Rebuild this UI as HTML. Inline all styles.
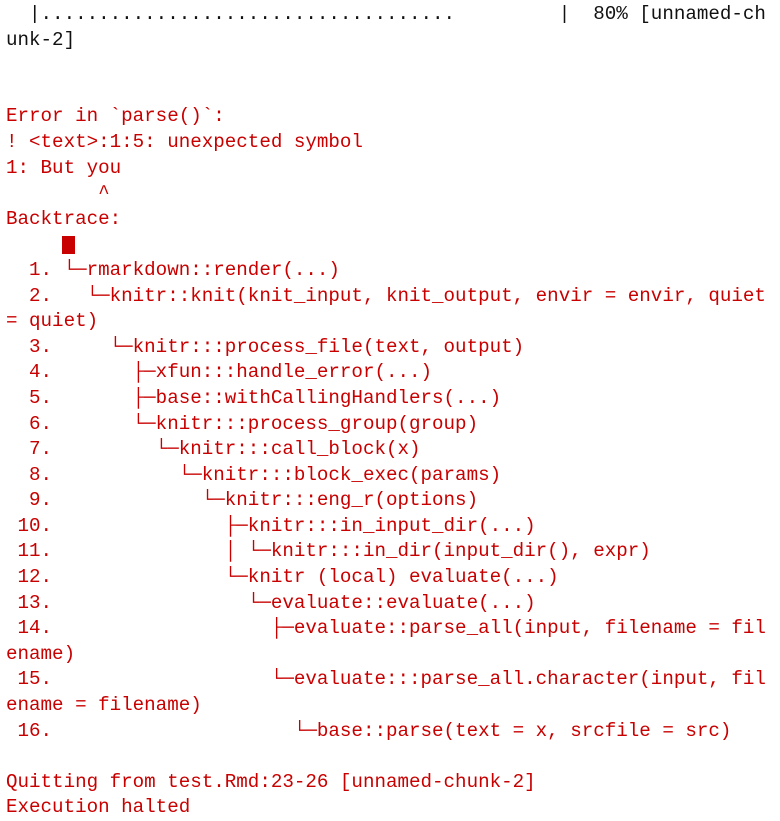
<!DOCTYPE html>
<html><head><meta charset="utf-8"><style>
html,body{margin:0;padding:0;background:#fff;width:780px;height:821px;overflow:hidden}
pre{margin:0;padding:2px 0 0 6px;font-family:"Liberation Mono","DejaVu Sans Mono",monospace;font-size:19.2px;line-height:25.6px;color:#c80000;white-space:pre}
.k{color:#111}
.cur{position:absolute;left:62px;top:236px;width:13px;height:18px;background:#c80000}
</style></head><body>
<pre><span class="k">  |....................................         |  80% [unnamed-ch
unk-2]</span>


Error in `parse()`:
! &lt;text&gt;:1:5: unexpected symbol
1: But you
        ^
Backtrace:

  1. └─rmarkdown::render(...)
  2.   └─knitr::knit(knit_input, knit_output, envir = envir, quiet
= quiet)
  3.     └─knitr:::process_file(text, output)
  4.       ├─xfun:::handle_error(...)
  5.       ├─base::withCallingHandlers(...)
  6.       └─knitr:::process_group(group)
  7.         └─knitr:::call_block(x)
  8.           └─knitr:::block_exec(params)
  9.             └─knitr:::eng_r(options)
 10.               ├─knitr:::in_input_dir(...)
 11.               │ └─knitr:::in_dir(input_dir(), expr)
 12.               └─knitr (local) evaluate(...)
 13.                 └─evaluate::evaluate(...)
 14.                   ├─evaluate::parse_all(input, filename = fil
ename)
 15.                   └─evaluate:::parse_all.character(input, fil
ename = filename)
 16.                     └─base::parse(text = x, srcfile = src)

Quitting from test.Rmd:23-26 [unnamed-chunk-2]
Execution halted</pre>
<div class="cur"></div>
</body></html>
